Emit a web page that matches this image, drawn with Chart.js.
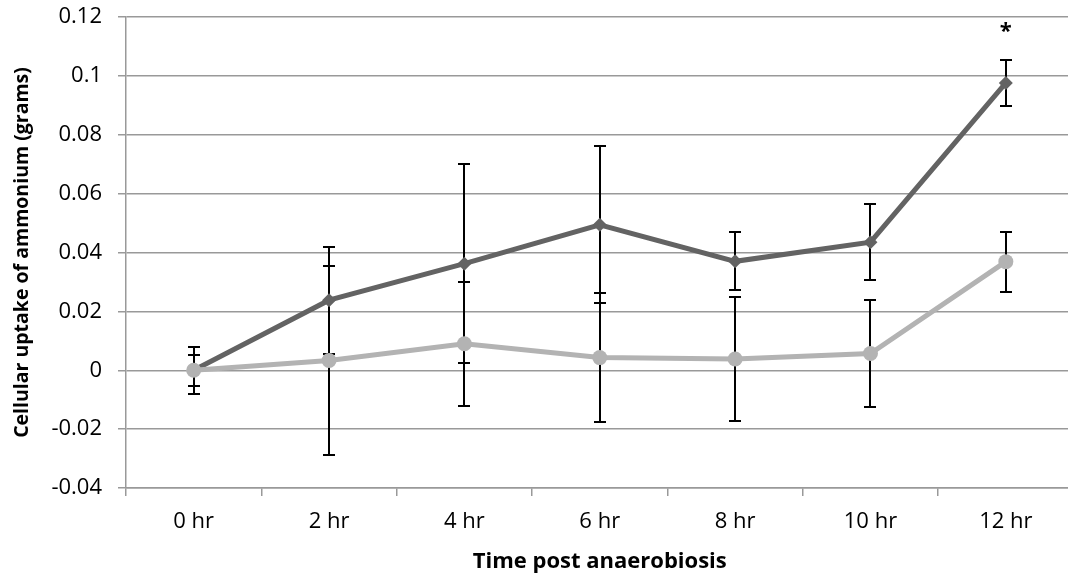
<!DOCTYPE html>
<html>
<head>
<meta charset="utf-8">
<script src="https://cdn.jsdelivr.net/npm/chart.js@4"></script>
<style>
  body { margin: 0; background: #fff; }
  #frame { width: 1068px; height: 578px; overflow: hidden; }
  #box { width: 1081px; height: 578px; position: relative; }
</style>
</head>
<body>
<div id="frame"><div id="box"><canvas id="uptakeChart"></canvas></div></div>
<script>
// data
const categories = ['0 hr', '2 hr', '4 hr', '6 hr', '8 hr', '10 hr', '12 hr'];
const darkValues = [0, 0.0238, 0.0362, 0.0494, 0.037, 0.0435, 0.0976];
const darkErrors = [0.008, 0.0182, 0.0337, 0.0267, 0.0099, 0.013, 0.0078];
const lightValues = [0, 0.0033, 0.009, 0.0043, 0.0038, 0.0057, 0.0369];
const lightErrors = [0.0053, 0.032, 0.021, 0.022, 0.0212, 0.0181, 0.0102];
const marks = ['', '', '', '', '', '', '*'];
const yTicks = [-0.04, -0.02, 0, 0.02, 0.04, 0.06, 0.08, 0.1, 0.12];

const FONT = "'Open Sans', sans-serif";

// error bars, drawn under the markers
const errorBars = {
    id: 'errorBars',
    beforeDatasetsDraw(chart) {
        const ctx = chart.ctx;
        const y = chart.scales.y;
        ctx.save();
        ctx.strokeStyle = '#000';
        ctx.lineWidth = 2;
        chart.data.datasets.forEach((ds, i) => {
            const meta = chart.getDatasetMeta(i);
            meta.data.forEach((pt, j) => {
                const v = ds.data[j], e = ds.errors[j];
                const top = Math.round(y.getPixelForValue(v + e));
                const bot = Math.round(y.getPixelForValue(v - e));
                const x = Math.round(pt.x);
                ctx.beginPath();
                ctx.moveTo(x, top); ctx.lineTo(x, bot);
                ctx.moveTo(x - 6, top); ctx.lineTo(x + 6, top);
                ctx.moveTo(x - 6, bot); ctx.lineTo(x + 6, bot);
                ctx.stroke();
            });
        });
        ctx.restore();
    },
    afterDatasetsDraw(chart) {
        const ctx = chart.ctx;
        const y = chart.scales.y;
        const meta = chart.getDatasetMeta(0);
        ctx.save();
        ctx.fillStyle = '#000';
        ctx.font = "bold 22px " + FONT;
        ctx.textAlign = 'center';
        ctx.textBaseline = 'middle';
        marks.forEach((m, j) => {
            if (!m) return;
            const top = y.getPixelForValue(darkValues[j] + darkErrors[j]);
            ctx.fillText(m, meta.data[j].x, top - 28);
        });
        ctx.restore();
    }
};

new Chart(document.getElementById('uptakeChart'), {
    type: 'line',
    data: {
        labels: categories,
        datasets: [{
            label: 'Dark',
            data: darkValues,
            errors: darkErrors,
            borderColor: '#636363',
            backgroundColor: '#636363',
            borderWidth: 5,
            pointStyle: 'rectRot',
            pointRadius: 7,
            pointBorderWidth: 0,
            tension: 0,
            order: 2
        }, {
            label: 'Light',
            data: lightValues,
            errors: lightErrors,
            borderColor: '#b3b3b3',
            backgroundColor: '#b3b3b3',
            borderWidth: 5,
            pointStyle: 'circle',
            pointRadius: 7.5,
            pointBorderWidth: 0,
            tension: 0,
            order: 1
        }]
    },
    options: {
        responsive: true,
        maintainAspectRatio: false,
        animation: false,
        layout: { padding: { top: 17, left: 0, right: 0, bottom: 0 } },
        plugins: {
            legend: { display: false },
            tooltip: { enabled: false }
        },
        scales: {
            x: {
                offset: true,
                grid: {
                    offset: true,
                    drawOnChartArea: false,
                    tickLength: 8,
                    color: '#999',
                    lineWidth: 1.5
                },
                border: { color: '#999', width: 1.5 },
                ticks: {
                    color: '#000',
                    padding: 13,
                    font: { family: FONT, size: 22 }
                },
                title: {
                    display: true,
                    text: 'Time post anaerobiosis',
                    color: '#000',
                    padding: { top: 0, bottom: 3 },
                    font: { family: FONT, size: 22, weight: 'bold' }
                },
                afterFit(scale) {
                    scale.height = 90;
                    scale.paddingLeft = 0;
                    scale.paddingRight = 0;
                }
            },
            y: {
                min: yTicks[0],
                max: yTicks[yTicks.length - 1],
                afterBuildTicks(scale) {
                    scale.ticks = yTicks.map(v => ({ value: v }));
                },
                grid: {
                    color: '#999',
                    lineWidth: 1.5,
                    tickLength: 8
                },
                border: { color: '#999', width: 1.5 },
                ticks: {
                    color: '#000',
                    padding: 16,
                    font: { family: FONT, size: 22 },
                    callback: v => String(Math.round(v * 100) / 100)
                },
                title: {
                    display: true,
                    text: 'Cellular uptake of ammonium (grams)',
                    color: '#000',
                    padding: { top: 11, bottom: 0 },
                    font: { family: FONT, size: 19.5, weight: 'bold' }
                },
                afterFit(scale) {
                    scale.width = 126;
                    scale.paddingTop = 0;
                    scale.paddingBottom = 0;
                }
            }
        }
    },
    plugins: [errorBars]
});
</script>
</body>
</html>
